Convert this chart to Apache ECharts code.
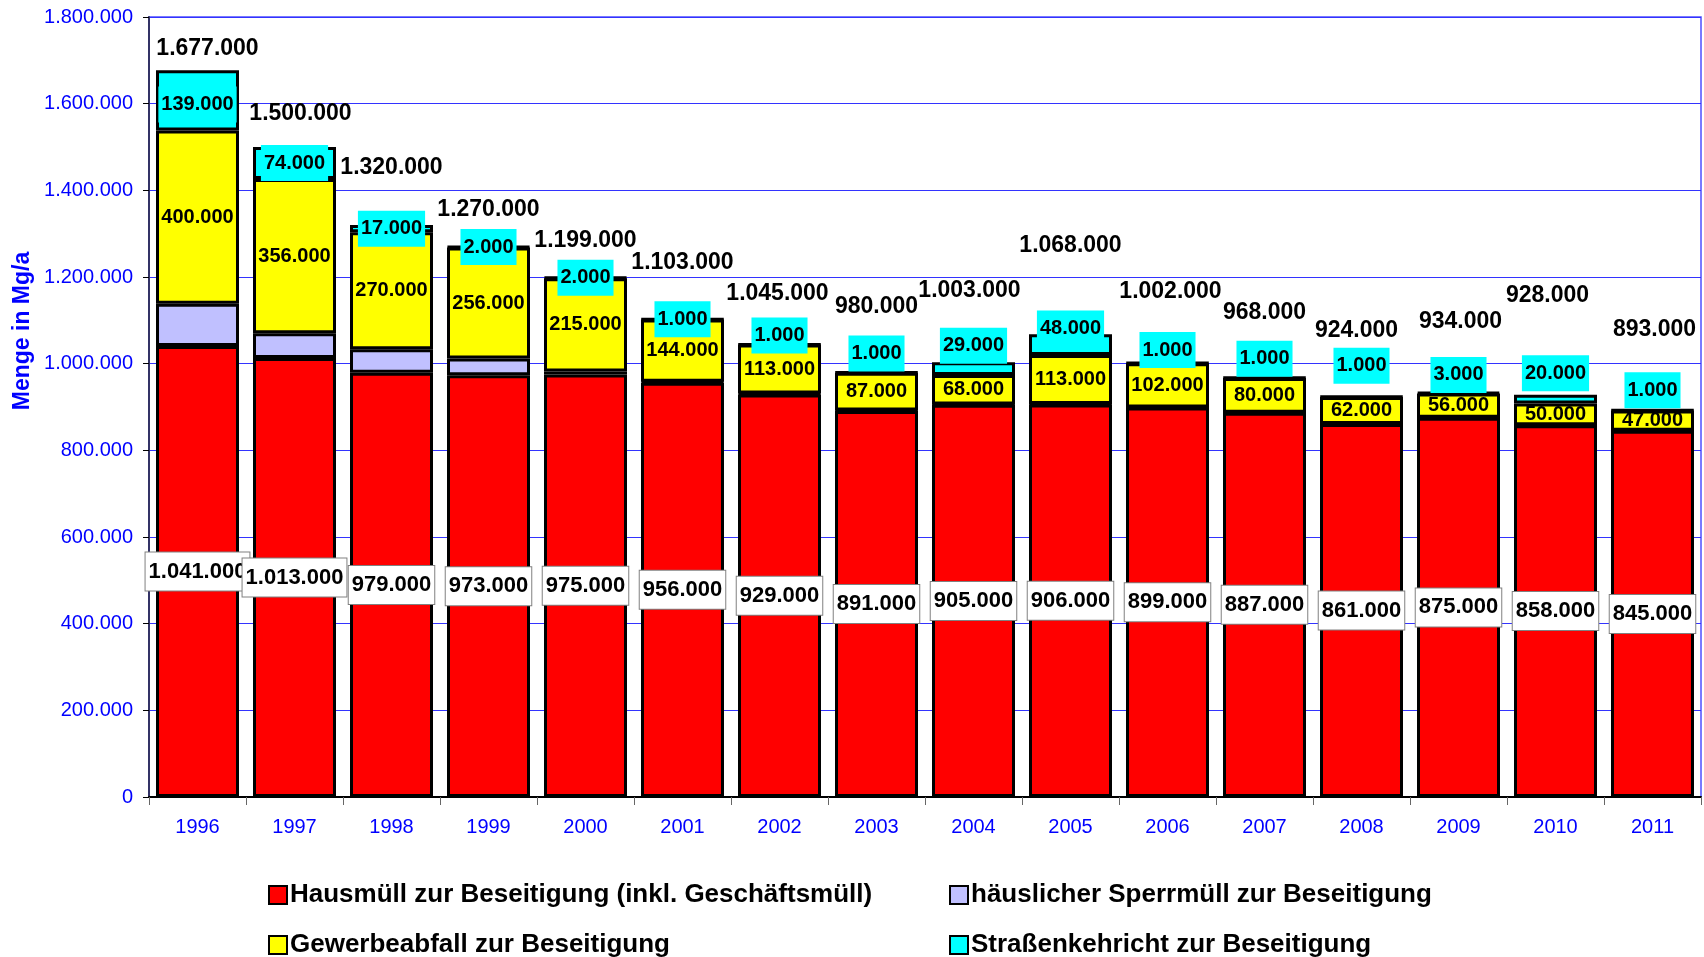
<!DOCTYPE html>
<html>
<head>
<meta charset="utf-8">
<title>Abfall zur Beseitigung 1996-2011</title>
<script src="https://cdn.jsdelivr.net/npm/echarts@6/dist/echarts.min.js"></script>
<style>
    html, body { margin: 0; padding: 0; background: #fff; }
    #chart { width: 1704px; height: 957px; }
</style>
</head>
<body>
<div id="chart"></div>
<script>
// Jahre
const years = ['1996','1997','1998','1999','2000','2001','2002','2003','2004','2005','2006','2007','2008','2009','2010','2011'];

// Mengen in Mg/a
const hausmuell     = [1041000,1013000,979000,973000,975000,956000,929000,891000,905000,906000,899000,887000,861000,875000,858000,845000];
const sperrmuell    = [97000,57000,54000,39000,7000,2000,2000,1000,1000,1000,0,0,0,0,0,0];
const gewerbeabfall = [400000,356000,270000,256000,215000,144000,113000,87000,68000,113000,102000,80000,62000,56000,50000,47000];
const strassenkehr  = [139000,74000,17000,2000,2000,1000,1000,1000,29000,48000,1000,1000,1000,3000,20000,1000];
const summe         = [1677000,1500000,1320000,1270000,1199000,1103000,1045000,980000,1003000,1068000,1002000,968000,924000,934000,928000,893000];

const yTicks = { min: 0, max: 1800000, interval: 200000 };

// Beschriftungs-Versatz (px), nur Optik
const sumLift  = [22,33,57,37,37,56,51,66,72,89,71,65,66,71,99,80];
const sumShift = [10,6,0,0,0,0,-2,0,-4,0,3,0,-5,2,-8,2];
const kehrLift = [-4,0,0,0,0,0,9,19,23,16,13,19,31,18,26,20];

const fmt = v => String(v).replace(/\B(?=(\d{3})+(?!\d))/g, '.');

const myChart = echarts.init(document.getElementById('chart'));

const barBase = {
    type: 'bar',
    stack: 'gesamt',
    barWidth: 83,
    itemStyle: { borderColor: '#000', borderWidth: 3 }
};

const lblFont = { fontFamily: 'Liberation Sans, Arial, sans-serif', fontWeight: 'bold', color: '#000' };

// je Legendeneintrag eine eigene Legende (2 Spalten x 2 Zeilen)
const legendItem = (name, left, top) => ({
    data: [name],
    left: left, top: top,
    itemWidth: 18, itemHeight: 18, icon: 'rect',
    itemStyle: { borderColor: '#000', borderWidth: 2 },
    textStyle: { fontSize: 26, fontWeight: 'bold', color: '#000', padding: [0, 0, 0, -2] }
});

myChart.setOption({
    animation: false,
    backgroundColor: '#fff',
    textStyle: { fontFamily: 'Liberation Sans, Arial, sans-serif' },
    grid: {
        left: 149, right: 3, top: 17, bottom: 160,
        show: true, borderColor: '#4d4dff', borderWidth: 1.5
    },
    legend: [
        legendItem('Hausmüll zur Beseitigung (inkl. Geschäftsmüll)', 263, 877),
        legendItem('Gewerbeabfall zur Beseitigung', 263, 927),
        legendItem('häuslicher Sperrmüll zur Beseitigung', 944, 877),
        legendItem('Straßenkehricht zur Beseitigung', 944, 927)
    ],
    graphic: [{
        type: 'text',
        x: 23, y: 331,
        rotation: Math.PI / 2,
        style: {
            text: 'Menge in Mg/a',
            fill: '#0000ff',
            font: 'bold 23px "Liberation Sans", Arial, sans-serif',
            textAlign: 'center',
            textVerticalAlign: 'middle'
        }
    }],
    xAxis: {
        type: 'category',
        data: years,
        axisLine: { lineStyle: { color: '#000', width: 2 } },
        axisTick: { show: true, length: 8, lineStyle: { color: '#666' } },
        axisLabel: { color: '#0000ff', fontSize: 20, margin: 20 }
    },
    yAxis: {
        type: 'value',
        min: yTicks.min, max: yTicks.max, interval: yTicks.interval,
        axisLine: { show: true, lineStyle: { color: '#333366', width: 2 } },
        axisTick: { show: true, length: 6, lineStyle: { color: '#000' } },
        axisLabel: { color: '#0000ff', fontSize: 20, margin: 16, formatter: fmt },
        splitLine: { lineStyle: { color: '#3333ff', width: 1 } }
    },
    series: [
        Object.assign({}, barBase, {
            name: 'Hausmüll zur Beseitigung (inkl. Geschäftsmüll)',
            data: hausmuell,
            itemStyle: { color: '#ff0000', borderColor: '#000', borderWidth: 3 },
            label: Object.assign({
                show: true, position: 'inside', fontSize: 22,
                formatter: p => fmt(p.value),
                backgroundColor: '#fff', borderColor: '#808080', borderWidth: 1,
                padding: [8, 3]
            }, lblFont)
        }),
        Object.assign({}, barBase, {
            name: 'häuslicher Sperrmüll zur Beseitigung',
            data: sperrmuell,
            itemStyle: { color: '#c0c0ff', borderColor: '#000', borderWidth: 3 }
        }),
        Object.assign({}, barBase, {
            name: 'Gewerbeabfall zur Beseitigung',
            data: gewerbeabfall,
            itemStyle: { color: '#ffff00', borderColor: '#000', borderWidth: 3 },
            label: Object.assign({
                show: true, position: 'inside', fontSize: 20,
                formatter: p => fmt(p.value)
            }, lblFont)
        }),
        Object.assign({}, barBase, {
            name: 'Straßenkehricht zur Beseitigung',
            data: strassenkehr.map((v, i) => ({ value: v, label: { offset: [0, -kehrLift[i]] } })),
            itemStyle: { color: '#00ffff', borderColor: '#000', borderWidth: 3 },
            label: Object.assign({
                show: true, position: 'inside', fontSize: 20,
                formatter: p => fmt(p.value),
                backgroundColor: '#00ffff', padding: [8, 3]
            }, lblFont)
        }),
        {
            name: 'Summe',
            type: 'scatter',
            symbolSize: 0,
            z: 5,
            itemStyle: { opacity: 1 },
            data: summe.map((v, i) => ({ value: v, label: { offset: [sumShift[i], -sumLift[i]] } })),
            label: Object.assign({
                show: true, position: 'inside', fontSize: 23,
                formatter: p => fmt(p.value)
            }, lblFont)
        }
    ]
});
</script>
</body>
</html>
